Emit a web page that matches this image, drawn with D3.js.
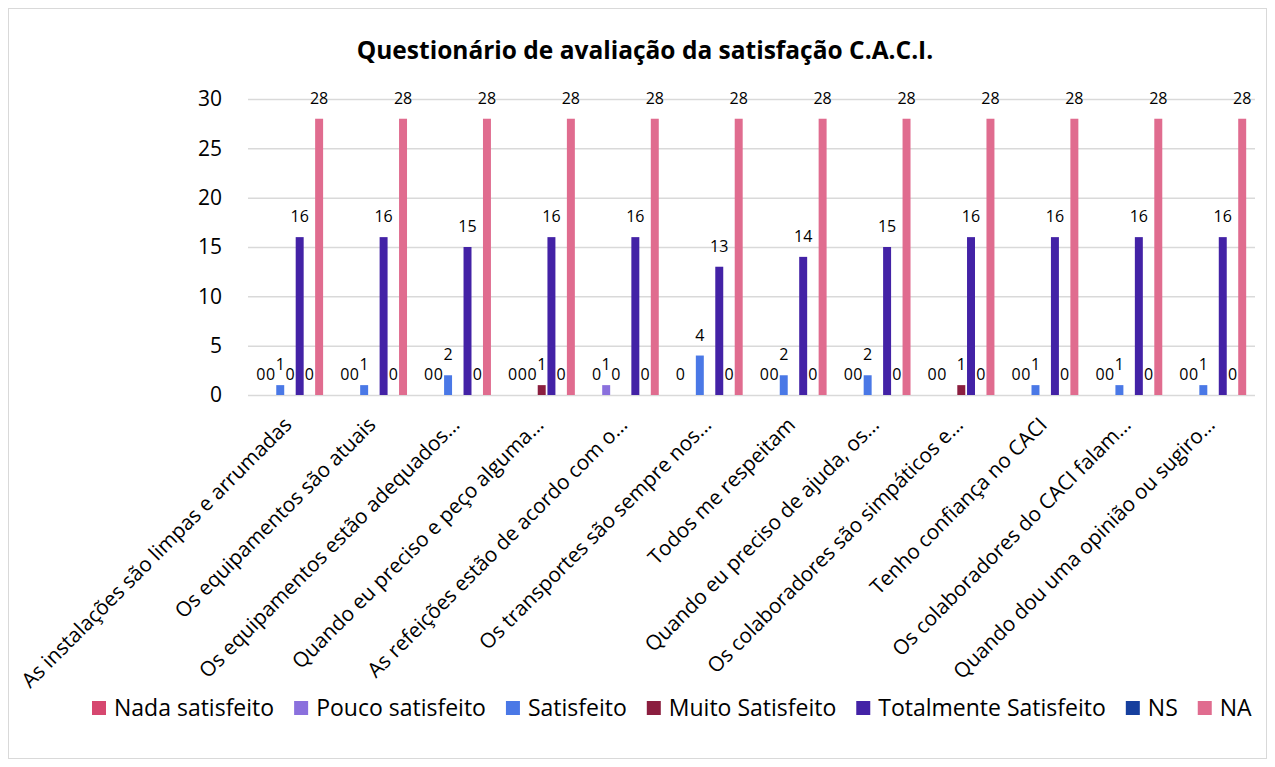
<!DOCTYPE html>
<html>
<head>
<meta charset="utf-8">
<script src="https://d3js.org/d3.v7.min.js"></script>
<style>
body { margin: 0; background: #fff; }
text { font-family: "Open Sans", Lato, sans-serif; fill: #000; }
</style>
</head>
<body>
<script>

var width = 1275;
var height = 767;
var margin = {top: 99, left: 248};
var w = 1255 - margin.left;
var h = 395 - margin.top;

var categories = [
  "As instalações são limpas e arrumadas",
  "Os equipamentos são atuais",
  "Os equipamentos estão adequados…",
  "Quando eu preciso e peço alguma…",
  "As refeições estão de acordo com o…",
  "Os transportes são sempre nos…",
  "Todos me respeitam",
  "Quando eu preciso de ajuda, os…",
  "Os colaboradores são simpáticos e…",
  "Tenho confiança no CACI",
  "Os colaboradores do CACI falam…",
  "Quando dou uma opinião ou sugiro…"
];

var keys = ["Nada satisfeito", "Pouco satisfeito", "Satisfeito", "Muito Satisfeito",
            "Totalmente Satisfeito", "NS", "NA"];
var colors = ["#d6476f", "#8a70dd", "#4a78e6", "#8b1e3f", "#4322a6", "#163f9e", "#e06c8f"];

// null = empty cell (no bar, no label)
var nada       = [0, 0, 0, 0, 0, 0, 0, 0, 0, 0, 0, 0];
var pouco      = [0, 0, 0, 0, 1, null, 0, 0, 0, 0, 0, 0];
var satisfeito = [1, 1, 2, 0, 0, 4, 2, 2, null, 1, 1, 1];
var muito      = [0, null, null, 1, null, null, null, null, 1, null, null, null];
var totalmente = [16, 16, 15, 16, 16, 13, 14, 15, 16, 16, 16, 16];
var ns         = [0, 0, 0, 0, 0, 0, 0, 0, 0, 0, 0, 0];
var na         = [28, 28, 28, 28, 28, 28, 28, 28, 28, 28, 28, 28];

var series = [nada, pouco, satisfeito, muito, totalmente, ns, na];
var yTicks = [0, 5, 10, 15, 20, 25, 30];

var svg = d3.select("body").append("svg")
    .attr("width", width)
    .attr("height", height);

svg.append("rect")
    .attr("x", 8.5).attr("y", 8.5)
    .attr("width", 1258).attr("height", 750)
    .attr("fill", "#fff")
    .attr("stroke", "#d9d9d9");

var g = svg.append("g")
    .attr("transform", "translate(" + margin.left + "," + margin.top + ")");

var x0 = d3.scaleBand()
    .domain(categories)
    .range([0, w])
    .paddingInner(0.21)
    .paddingOuter(0.105);

var x1 = d3.scaleBand()
    .domain(keys)
    .range([0, x0.bandwidth()])
    .paddingInner(0.18);

var y = d3.scaleLinear()
    .domain([0, 30])
    .range([h, 0]);

// gridlines
g.append("g")
  .selectAll("line")
  .data(yTicks)
  .enter().append("line")
    .attr("x1", 0).attr("x2", w)
    .attr("y1", function(d) { return y(d) + 0.5; })
    .attr("y2", function(d) { return y(d) + 0.5; })
    .attr("stroke", "#d9d9d9")
    .attr("stroke-width", 1.5);

// y tick labels
g.append("g")
  .selectAll("text")
  .data(yTicks)
  .enter().append("text")
    .attr("x", -26)
    .attr("y", function(d) { return y(d); })
    .attr("dy", "0.35em")
    .attr("text-anchor", "end")
    .style("font-size", "21px")
    .text(function(d) { return d; });

var rows = [];
categories.forEach(function(c, i) {
  keys.forEach(function(k, j) {
    rows.push({cat: c, key: k, color: colors[j], value: series[j][i]});
  });
});
var shown = rows.filter(function(d) { return d.value !== null; });

g.append("g")
  .selectAll("rect")
  .data(shown.filter(function(d) { return d.value > 0; }))
  .enter().append("rect")
    .attr("x", function(d) { return x0(d.cat) + x1(d.key); })
    .attr("y", function(d) { return y(d.value); })
    .attr("width", x1.bandwidth())
    .attr("height", function(d) { return h - y(d.value); })
    .attr("fill", function(d) { return d.color; });

g.append("g")
  .selectAll("text")
  .data(shown)
  .enter().append("text")
    .attr("x", function(d) { return x0(d.cat) + x1(d.key) + x1.bandwidth() / 2; })
    .attr("y", function(d) { return y(d.value) - 15; })
    .attr("text-anchor", "middle")
    .style("font-size", "16px")
    .text(function(d) { return d.value; });

// category labels
g.append("g")
  .selectAll("text")
  .data(categories)
  .enter().append("text")
    .attr("transform", function(d) {
      return "translate(" + (x0(d) + x0.bandwidth() / 2 - 2) + "," + (h + 26) + ") rotate(-45)";
    })
    .attr("text-anchor", "end")
    .attr("dy", "0.35em")
    .style("font-size", "20.7px")
    .text(function(d) { return d; });

// title
svg.append("text")
    .attr("x", 645)
    .attr("y", 59)
    .attr("text-anchor", "middle")
    .style("font-size", "24.5px")
    .style("font-weight", "bold")
    .text("Questionário de avaliação da satisfação C.A.C.I.");

// legend
var legend = svg.append("g").attr("transform", "translate(0,708)");
var lx = 92;
keys.forEach(function(k, i) {
  var item = legend.append("g").attr("transform", "translate(" + lx + ",0)");
  item.append("rect")
    .attr("x", 0).attr("y", -7)
    .attr("width", 14).attr("height", 14)
    .attr("fill", colors[i]);
  var t = item.append("text")
    .attr("x", 22)
    .attr("dy", "0.35em")
    .style("font-size", "23px")
    .text(k);
  lx += 22 + t.node().getComputedTextLength() + 20;
});

</script>
</body>
</html>
